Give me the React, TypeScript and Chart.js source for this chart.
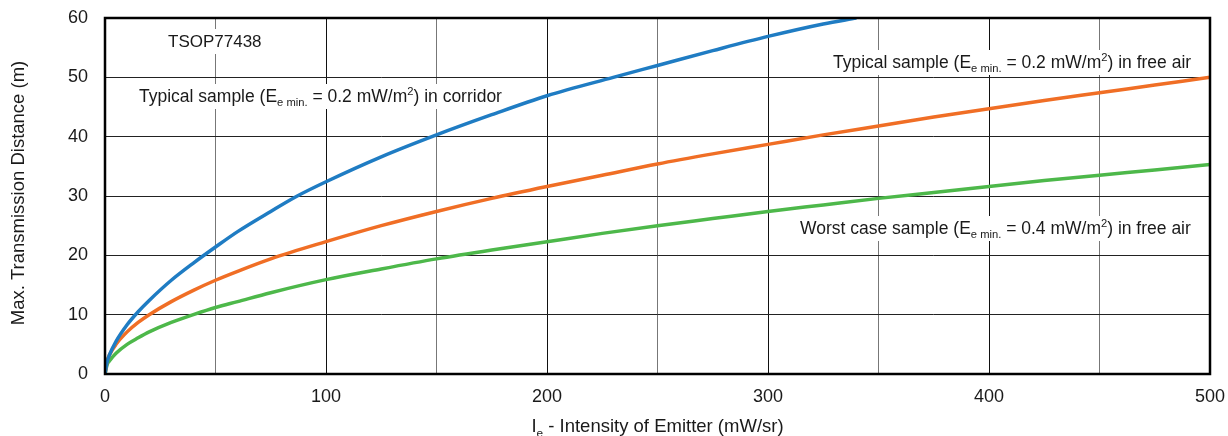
import React, { useEffect, useRef } from "react";
import { Chart, registerables } from "chart.js";

Chart.register(...registerables);

// Intensity of emitter (mW/sr)
const xBlue = [0, 1, 2, 5, 10, 15, 20, 30, 40, 50, 60, 75, 87, 100, 125, 150, 175, 200, 230, 250, 275, 300, 325, 340];
const yBlue = [0, 2.1, 3.2, 5.5, 8.3, 10.5, 12.4, 15.8, 18.7, 21.4, 24.0, 27.4, 30.0, 32.4, 36.6, 40.3, 43.7, 46.9, 50.0, 52.0, 54.5, 56.9, 59.0, 60.0];

const xOrange = [0, 1, 2, 5, 10, 15, 20, 30, 40, 50, 60, 75, 100, 125, 150, 175, 200, 225, 250, 275, 300, 325, 350, 375, 400, 425, 450, 475, 500];
const yOrange = [0, 2.2, 3.2, 5.0, 7.1, 8.7, 10.0, 12.2, 14.1, 15.8, 17.3, 19.4, 22.3, 25.0, 27.4, 29.6, 31.6, 33.5, 35.4, 37.1, 38.7, 40.3, 41.8, 43.3, 44.7, 46.1, 47.4, 48.7, 50.0];

const xGreen = [0, 1, 2, 5, 10, 15, 20, 30, 40, 50, 60, 75, 100, 125, 150, 175, 200, 225, 250, 275, 300, 325, 350, 375, 400, 425, 450, 475, 500];
const yGreen = [0, 1.6, 2.2, 3.5, 5.0, 6.1, 7.1, 8.7, 10.0, 11.2, 12.2, 13.7, 15.9, 17.7, 19.4, 20.9, 22.3, 23.7, 25.0, 26.2, 27.4, 28.5, 29.6, 30.6, 31.6, 32.6, 33.5, 34.4, 35.3];

const xTickLabels = ["0", "100", "200", "300", "400", "500"];
const yTickLabels = ["0", "10", "20", "30", "40", "50", "60"];

type Seg = { t: string; sub?: boolean; sup?: boolean };

const annotations: { x: number; y: number; segs: Seg[]; size: number }[] = [
  { x: 168, y: 47, size: 17, segs: [{ t: "TSOP77438" }] },
  {
    x: 139, y: 102, size: 17.5,
    segs: [{ t: "Typical sample (E" }, { t: "e min.", sub: true }, { t: " = 0.2 mW/m" }, { t: "2", sup: true }, { t: ") in corridor" }],
  },
  {
    x: 833, y: 68, size: 17.5,
    segs: [{ t: "Typical sample (E" }, { t: "e min.", sub: true }, { t: " = 0.2 mW/m" }, { t: "2", sup: true }, { t: ") in free air" }],
  },
  {
    x: 800, y: 234, size: 17.5,
    segs: [{ t: "Worst case sample (E" }, { t: "e min.", sub: true }, { t: " = 0.4 mW/m" }, { t: "2", sup: true }, { t: ") in free air" }],
  },
];

const FONT = "'Liberation Sans', Arial, sans-serif";

function segFont(s: Seg, size: number) {
  const sz = s.sub || s.sup ? size * 0.64 : size;
  return `${sz}px ${FONT}`;
}

function measureSegs(ctx: CanvasRenderingContext2D, segs: Seg[], size: number) {
  let w = 0;
  for (const s of segs) {
    ctx.font = segFont(s, size);
    w += ctx.measureText(s.t).width;
  }
  return w;
}

function drawSegs(ctx: CanvasRenderingContext2D, segs: Seg[], size: number, x: number, y: number) {
  let cx = x;
  ctx.textBaseline = "alphabetic";
  ctx.textAlign = "left";
  for (const s of segs) {
    ctx.font = segFont(s, size);
    const dy = s.sub ? size * 0.25 : s.sup ? -size * 0.38 : 0;
    ctx.fillText(s.t, cx, y + dy);
    cx += ctx.measureText(s.t).width;
  }
}

const toPoints = (xs: number[], ys: number[]) => xs.map((x, i) => ({ x, y: ys[i] }));

export default function App() {
  const ref = useRef<HTMLCanvasElement | null>(null);
  useEffect(() => {
    if (!ref.current) return;
    const decor = {
      id: "decor",
      beforeDatasetsDraw(chart: any) {
        const ctx = chart.ctx as CanvasRenderingContext2D;
        ctx.save();
        for (const a of annotations) {
          const w = measureSegs(ctx, a.segs, a.size);
          ctx.fillStyle = "#ffffff";
          ctx.fillRect(a.x - 5, a.y - 18, w + 10, 25);
          ctx.fillStyle = "#1a1a1a";
          drawSegs(ctx, a.segs, a.size, a.x, a.y);
        }
        ctx.restore();
      },
      afterDatasetsDraw(chart: any) {
        const ctx = chart.ctx as CanvasRenderingContext2D;
        const a = chart.chartArea;
        ctx.save();
        ctx.strokeStyle = "#000";
        ctx.lineWidth = 2.5;
        ctx.strokeRect(a.left, a.top, a.right - a.left, a.bottom - a.top);
        ctx.fillStyle = "#1a1a1a";
        // x axis title
        const xs: Seg[] = [{ t: "I" }, { t: "e", sub: true }, { t: " - Intensity of Emitter (mW/sr)" }];
        const size = 18.5;
        const w = measureSegs(ctx, xs, size);
        drawSegs(ctx, xs, size, (a.left + a.right) / 2 - w / 2, 432);
        // y axis title
        ctx.translate(24, (a.top + a.bottom) / 2 - 3);
        ctx.rotate(-Math.PI / 2);
        ctx.font = `${size}px ${FONT}`;
        ctx.textAlign = "center";
        ctx.textBaseline = "alphabetic";
        ctx.fillText("Max. Transmission Distance (m)", 0, 0);
        ctx.restore();
      },
    };

    const chart = new Chart(ref.current, {
      type: "line",
      data: {
        datasets: [
          { label: "corridor", data: toPoints(xBlue, yBlue), borderColor: "#1f7cc3", borderWidth: 3.5, pointRadius: 0, cubicInterpolationMode: "monotone", fill: false },
          { label: "free air", data: toPoints(xOrange, yOrange), borderColor: "#f06e25", borderWidth: 3.5, pointRadius: 0, cubicInterpolationMode: "monotone", fill: false },
          { label: "worst case", data: toPoints(xGreen, yGreen), borderColor: "#4db84a", borderWidth: 3.5, pointRadius: 0, cubicInterpolationMode: "monotone", fill: false },
        ],
      },
      options: {
        responsive: false,
        animation: false,
        layout: { padding: { left: 0, top: 18, right: 18, bottom: 0 } },
        plugins: { legend: { display: false }, tooltip: { enabled: false } },
        scales: {
          x: {
            type: "linear",
            min: 0,
            max: 500,
            afterFit: (s: any) => { s.height = 62; s.paddingLeft = 0; s.paddingRight = 0; },
            ticks: {
              stepSize: 50,
              autoSkip: false,
              maxRotation: 0,
              padding: 12,
              color: "#1a1a1a",
              font: { family: FONT, size: 18 },
              callback: (v: any) => {
                const lbl = String(v);
                return xTickLabels.includes(lbl) ? lbl : "";
              },
            },
            grid: {
              drawTicks: false,
              color: (c: any) => (c.tick && c.tick.value % 100 === 0 ? "#111" : "#777"),
              lineWidth: 1,
            },
            border: { display: false },
          },
          y: {
            min: 0,
            max: 60,
            afterFit: (s: any) => { s.width = 105; s.paddingTop = 0; s.paddingBottom = 0; },
            ticks: {
              stepSize: 10,
              padding: 17,
              color: "#1a1a1a",
              font: { family: FONT, size: 18 },
              callback: (v: any) => {
                const lbl = String(v);
                return yTickLabels.includes(lbl) ? lbl : "";
              },
            },
            grid: { drawTicks: false, color: "#222", lineWidth: 1 },
            border: { display: false },
          },
        },
      },
      plugins: [decor],
    } as any);
    return () => chart.destroy();
  }, []);

  return (
    <div style={{ position: "fixed", left: 0, top: 0, width: 1228, height: 436, background: "#fff" }}>
      <canvas ref={ref} width={1228} height={436} style={{ width: 1228, height: 436, display: "block" }} />
    </div>
  );
}
